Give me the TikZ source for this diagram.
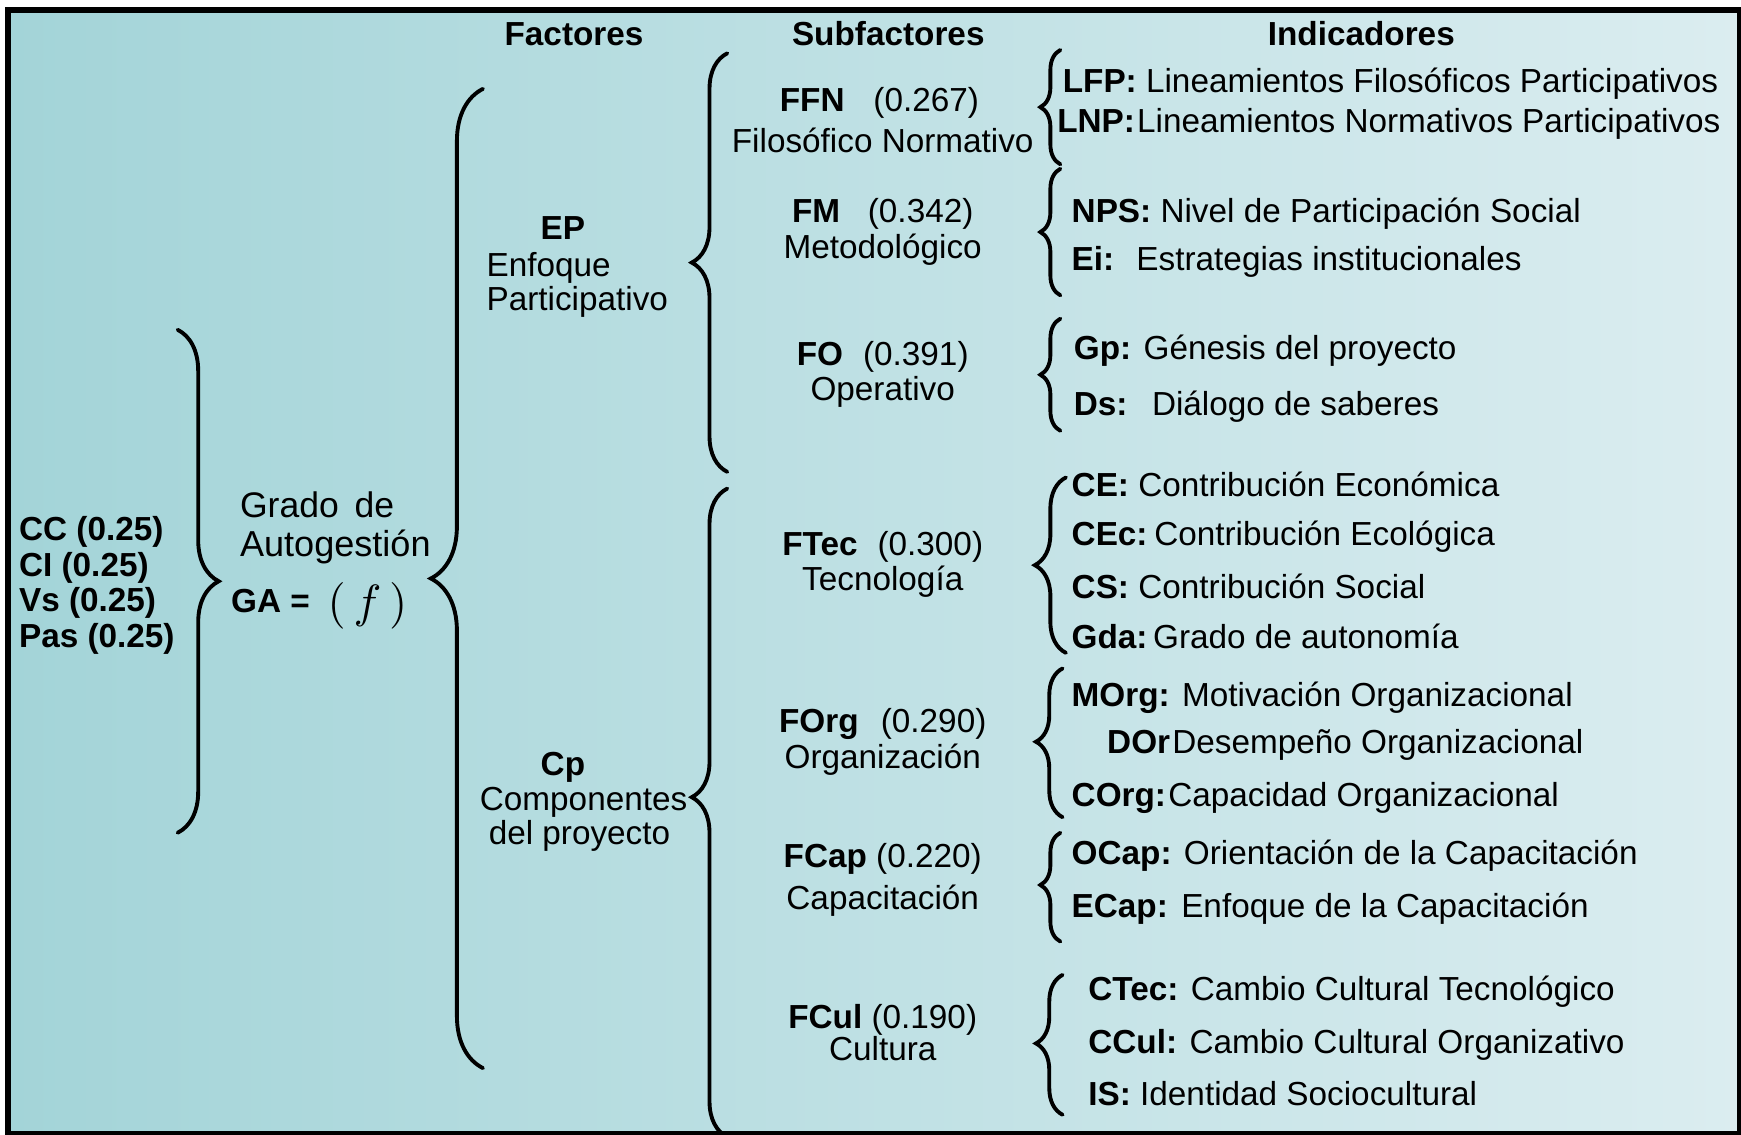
\documentclass[tikz,border=0pt]{standalone}
\usepackage{fontspec}
\setmainfont{Liberation Sans}
\usetikzlibrary{decorations.pathreplacing}
\definecolor{bgleft}{RGB}{163,212,216}
\definecolor{bgright}{RGB}{219,237,240}

\begin{document}
\begin{tikzpicture}[x=1pt,y=-1pt,
  lbl/.style={anchor=base west,inner sep=0pt,font=\fontsize{30}{36}\selectfont},
  ctr/.style={anchor=base,inner sep=0pt,font=\fontsize{30}{36}\selectfont},
  brc/.style 2 args={decorate,decoration={brace,amplitude=#1pt,aspect=#2},line width=3.5pt,line cap=round}]
  \useasboundingbox (0,0) rectangle (1568,1022);
  \fill[white] (0,0) rectangle (1568,1022);
  \shade[left color=bgleft,right color=bgright] (7,9) rectangle (1567,1021);
  \draw[line width=5pt] (7,9) rectangle (1567,1021);
%---------------------------------------------------------------------------
  \node[ctr,font=\fontsize{30}{36}\selectfont\bfseries] (hfac) at (517,41) {Factores};
  \node[ctr,font=\fontsize{30}{36}\selectfont\bfseries] (hsub) at (800,41) {Subfactores};
  \node[ctr,font=\fontsize{30}{36}\selectfont\bfseries] (hind) at (1226,41) {Indicadores};
%---------------------------------------------------------------------------
  \node[lbl,font=\fontsize{30}{36}\selectfont\bfseries] (cc) at (17,487) {CC (0.25)};
  \node[lbl,font=\fontsize{30}{36}\selectfont\bfseries] (ci) at (17,519) {CI (0.25)};
  \node[lbl,font=\fontsize{30}{36}\selectfont\bfseries] (vs) at (17,551) {Vs (0.25)};
  \node[lbl,font=\fontsize{30}{36}\selectfont\bfseries] (pas) at (17,583) {Pas (0.25)};
  \draw[brc={37}{0.5}] (160,297) -- (160,750);
%---------------------------------------------------------------------------
  \node[lbl,font=\fontsize{32}{38}\selectfont] (grado) at (216,466) {Grado\, de};
  \node[lbl,font=\fontsize{32.5}{38}\selectfont] (autog) at (216,501) {Autogesti\'on};
  \node[lbl,font=\fontsize{30}{36}\selectfont\bfseries] (ga) at (208,552) {GA =};
  \node[inner sep=0pt,scale=4.2] (fun) at (331,546) {$(\,f\,)$};
  \draw[brc={47}{0.5}] (435,962) -- (435,80);
%---------------------------------------------------------------------------
  \node[ctr,font=\fontsize{30}{36}\selectfont\bfseries] (ep) at (507,216) {EP};
  \node[lbl] (ept) at (438,249) {Enfoque};
  \node[lbl] (epu) at (438,280) {Participativo};
  \node[ctr,font=\fontsize{30}{36}\selectfont\bfseries] (cp) at (507,698) {Cp};
  \node[lbl] (cpt) at (432,730) {Componentes};
  \node[lbl] (cpu) at (440,761) {del proyecto};
  \draw[brc={32}{0.5}] (655,425) -- (655,48);
  \draw[brc={32}{0.524}] (655,1024) -- (655,440);
%---------------------------------------------------------------------------
  \node[ctr] (ffn) at (792,100) {\textbf{FFN}\hspace{26pt}(0.267)};
  \node[ctr] (ffnt) at (795,137) {Filos\'ofico Normativo};
  \node[ctr] (fm) at (795,200) {\textbf{FM}\hspace{25pt}(0.342)};
  \node[ctr] (fmt) at (795,233) {Metodol\'ogico};
  \node[ctr] (fo) at (795,329) {\textbf{FO}\hspace{18pt}(0.391)};
  \node[ctr] (fot) at (795,361) {Operativo};
  \node[ctr] (ftec) at (795,500) {\textbf{FTec}\hspace{18pt}(0.300)};
  \node[ctr] (ftect) at (795,532) {Tecnolog\'ia};
  \node[ctr] (forg) at (795,660) {\textbf{FOrg}\hspace{20pt}(0.290)};
  \node[ctr] (forgt) at (795,692) {Organizaci\'on};
  \node[ctr] (fcap) at (795,781) {\textbf{FCap} (0.220)};
  \node[ctr] (fcapt) at (795,819) {Capacitaci\'on};
  \node[ctr] (fcul) at (795,926) {\textbf{FCul} (0.190)};
  \node[ctr] (fcult) at (795,955) {Cultura};
%---------------------------------------------------------------------------
  \draw[brc={18}{0.5}] (955,148) -- (955,45);
  \draw[brc={18}{0.5}] (955,266) -- (955,152);
  \draw[brc={18}{0.5}] (955,388) -- (955,287);
  \draw[brc={28}{0.5}] (960,588) -- (960,430);
  \draw[brc={24}{0.507}] (957,736) -- (957,602);
  \draw[brc={18}{0.52}] (955,848) -- (955,750);
  \draw[brc={24}{0.51}] (957,1004) -- (957,878);
%---------------------------------------------------------------------------
  \node[lbl] (lfp) at (957,83) {\textbf{LFP:} Lineamientos Filos\'oficos Participativos};
  \node[lbl] (lnp) at (952,119) {\textbf{LNP:}\hspace{2pt}Lineamientos Normativos Participativos};
  \node[lbl] (nps) at (965,200) {\textbf{NPS:} Nivel de Participaci\'on Social};
  \node[lbl] (ei) at (965,244) {\textbf{Ei:}\hspace{20pt}Estrategias institucionales};
  \node[lbl] (gp) at (967,324) {\textbf{Gp:} G\'enesis del proyecto};
  \node[lbl] (ds) at (967,374) {\textbf{Ds:}\hspace{22pt}Di\'alogo de saberes};
  \node[lbl] (ce) at (965,447) {\textbf{CE:} Contribuci\'on Econ\'omica};
  \node[lbl] (cec) at (965,491) {\textbf{CEc:}\hspace{6pt}Contribuci\'on Ecol\'ogica};
  \node[lbl] (cs) at (965,539) {\textbf{CS:} Contribuci\'on Social};
  \node[lbl] (gda) at (965,584) {\textbf{Gda:}\hspace{5pt}Grado de autonom\'ia};
  \node[lbl] (morg) at (965,636) {\textbf{MOrg:} Motivaci\'on Organizacional};
  \node[lbl] (dorg) at (997,679) {\textbf{DOr}\hspace{2pt}Desempe\~no Organizacional};
  \node[lbl] (corg) at (965,726) {\textbf{COrg:}\hspace{2pt}Capacidad Organizacional};
  \node[lbl] (ocap) at (965,779) {\textbf{OCap:} Orientaci\'on de la Capacitaci\'on};
  \node[lbl] (ecap) at (965,826) {\textbf{ECap:}\hspace{12pt}Enfoque de la Capacitaci\'on};
  \node[lbl] (ctec) at (980,901) {\textbf{CTec:} Cambio Cultural Tecnol\'ogico};
  \node[lbl] (ccul) at (980,949) {\textbf{CCul:} Cambio Cultural Organizativo};
  \node[lbl] (is) at (980,996) {\textbf{IS:} Identidad Sociocultural};
\end{tikzpicture}
\end{document}
